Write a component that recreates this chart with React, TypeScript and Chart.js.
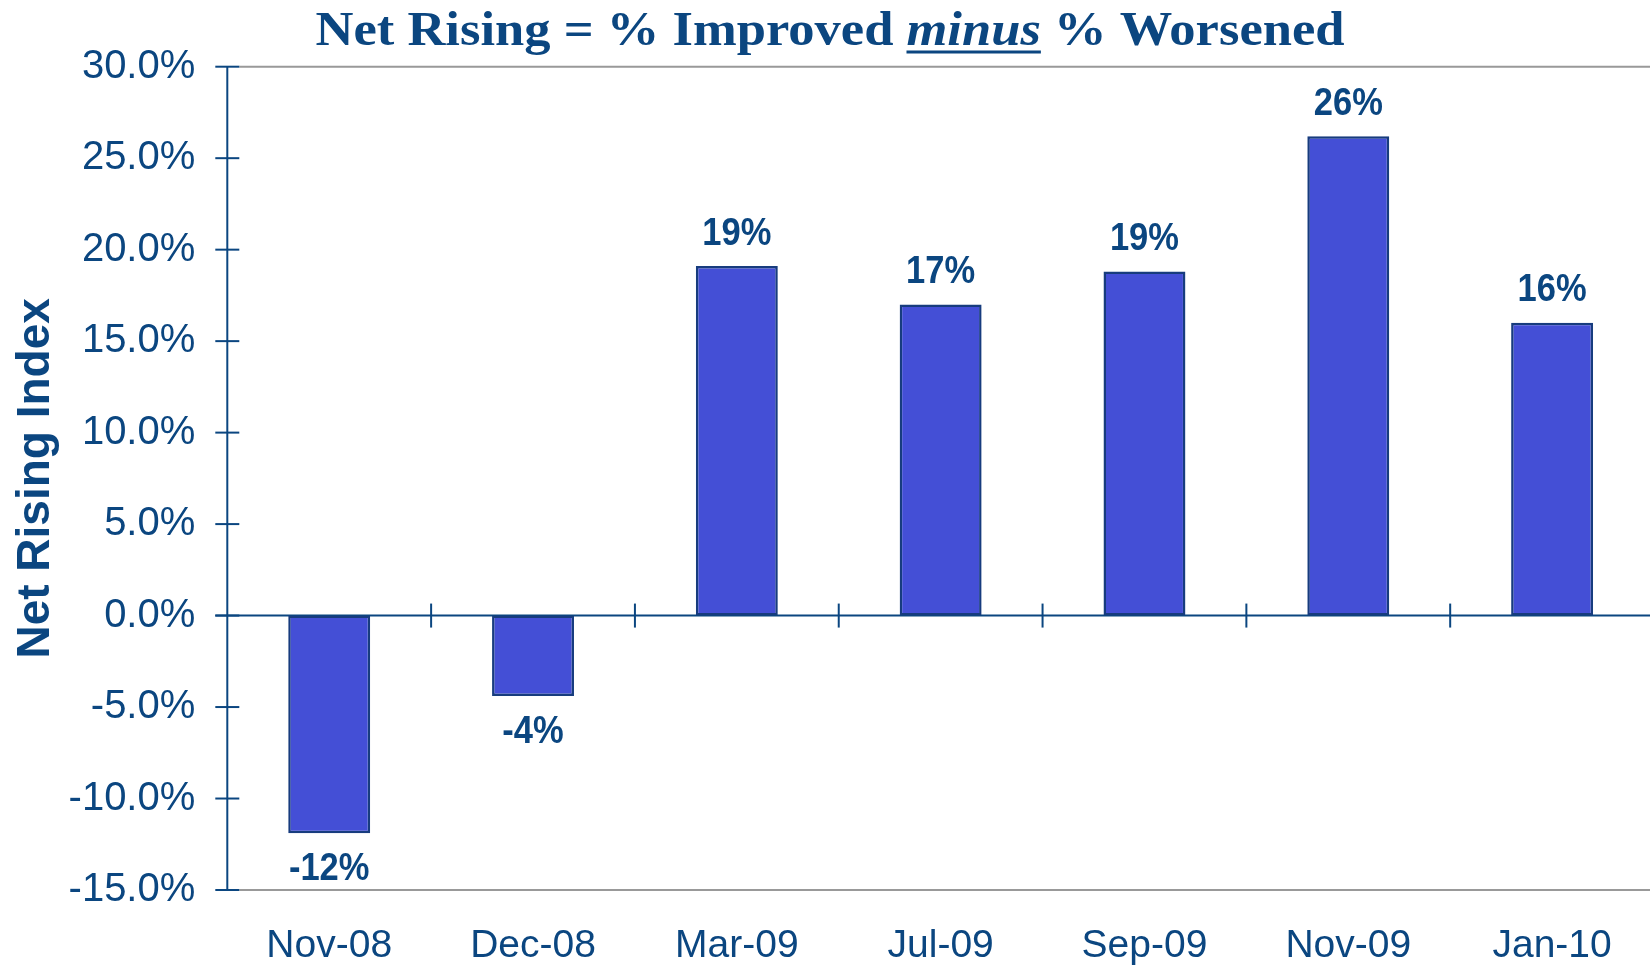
import React, { useEffect, useRef } from "react";
import { Chart, registerables } from "chart.js";

Chart.register(...registerables);

const categories = ["Nov-08", "Dec-08", "Mar-09", "Jul-09", "Sep-09", "Nov-09", "Jan-10"];
const netRising = [-11.9, -4.4, 19.1, 17.0, 18.8, 26.2, 16.0];
const valueLabels = ["-12%", "-4%", "19%", "17%", "19%", "26%", "16%"];
const yMin = -15;
const yMax = 30;
const yStep = 5;
const titleParts = [
  { text: "Net Rising = % Improved ", italic: false, underline: false },
  { text: "minus", italic: true, underline: true },
  { text: " % Worsened", italic: false, underline: false },
];
const yAxisTitle = "Net Rising Index";

const NAVY = "#0B4680";
const BAR = "#444FD6";
const BAR_BORDER = "#173C7E";
const GRAY = "#999999";
const SANS = '"Liberation Sans", Arial, sans-serif';
const SERIF = '"Liberation Serif", "Times New Roman", serif';

const decorPlugin = {
  id: "decor",
  beforeDatasetsDraw(chart: any) {
    const { ctx, chartArea } = chart;
    const x = chart.scales.x;
    const y = chart.scales.y;
    const left = chartArea.left;
    const right = chartArea.right;
    ctx.save();
    ctx.strokeStyle = GRAY;
    ctx.lineWidth = 2;
    [yMax, yMin].forEach((v) => {
      const py = y.getPixelForValue(v);
      ctx.beginPath();
      ctx.moveTo(left + 12, py);
      ctx.lineTo(right, py);
      ctx.stroke();
    });
    ctx.strokeStyle = NAVY;
    ctx.lineWidth = 2;
    ctx.beginPath();
    ctx.moveTo(left, y.getPixelForValue(yMax));
    ctx.lineTo(left, y.getPixelForValue(yMin));
    ctx.stroke();
    for (let v = yMin; v <= yMax; v += yStep) {
      const py = y.getPixelForValue(v);
      ctx.beginPath();
      ctx.moveTo(left - 12, py);
      ctx.lineTo(left + 12, py);
      ctx.stroke();
    }
    const zy = y.getPixelForValue(0);
    ctx.beginPath();
    ctx.moveTo(left - 12, zy);
    ctx.lineTo(right, zy);
    ctx.stroke();
    for (let i = 1; i < categories.length; i++) {
      const px = (x.getPixelForTick(i - 1) + x.getPixelForTick(i)) / 2;
      ctx.beginPath();
      ctx.moveTo(px, zy - 12);
      ctx.lineTo(px, zy + 12);
      ctx.stroke();
    }
    ctx.restore();
  },
  afterDatasetsDraw(chart: any) {
    const { ctx } = chart;
    const meta = chart.getDatasetMeta(0);
    ctx.save();
    ctx.fillStyle = NAVY;
    ctx.font = `bold 39px ${SANS}`;
    ctx.textAlign = "center";
    ctx.textBaseline = "alphabetic";
    meta.data.forEach((bar: any, i: number) => {
      const v = netRising[i];
      const ty = v >= 0 ? bar.y - 21.5 : bar.y + 47;
      ctx.save();
      ctx.translate(bar.x, ty);
      ctx.scale(0.885, 1);
      ctx.fillText(valueLabels[i], 0, 0);
      ctx.restore();
    });
    ctx.restore();
  },
  afterDraw(chart: any) {
    const { ctx } = chart;
    ctx.save();
    const size = 49;
    const fonts = titleParts.map((p) => `${p.italic ? "italic " : ""}bold ${size}px ${SERIF}`);
    const widths = titleParts.map((p, i) => {
      ctx.font = fonts[i];
      return ctx.measureText(p.text).width;
    });
    const total = widths.reduce((a, b) => a + b, 0);
    const targetW = 1029;
    const s = targetW / total;
    const cx = 830;
    const baseY = 45;
    ctx.translate(cx - targetW / 2, baseY);
    ctx.scale(s, 1);
    ctx.fillStyle = NAVY;
    ctx.textAlign = "left";
    ctx.textBaseline = "alphabetic";
    let xPos = 0;
    titleParts.forEach((p, i) => {
      ctx.font = fonts[i];
      ctx.fillText(p.text, xPos, 0);
      if (p.underline) {
        ctx.fillRect(xPos, 5.5, widths[i], 3);
      }
      xPos += widths[i];
    });
    ctx.restore();
    ctx.save();
    ctx.fillStyle = NAVY;
    ctx.font = `bold 46px ${SANS}`;
    ctx.textAlign = "center";
    ctx.textBaseline = "alphabetic";
    const yS = chart.scales.y;
    const midY = (yS.getPixelForValue(yMax) + yS.getPixelForValue(yMin)) / 2;
    ctx.translate(49.3, midY);
    ctx.rotate(-Math.PI / 2);
    ctx.fillText(yAxisTitle, 0, 0);
    ctx.restore();
  },
};

export default function App() {
  const canvasRef = useRef<HTMLCanvasElement | null>(null);

  useEffect(() => {
    const canvas = canvasRef.current;
    if (!canvas) return;
    const chart = new Chart(canvas, {
      type: "bar",
      data: {
        labels: categories,
        datasets: [
          {
            data: netRising,
            backgroundColor: BAR,
            borderColor: BAR_BORDER,
            borderWidth: 2.5,
            borderSkipped: false,
            barPercentage: 0.402,
            categoryPercentage: 1,
          },
        ],
      },
      options: {
        responsive: false,
        animation: false,
        devicePixelRatio: 1,
        layout: { padding: { top: 66.7, left: 0, right: 0, bottom: 0 } },
        plugins: {
          legend: { display: false },
          tooltip: { enabled: false },
          title: { display: false },
        },
        scales: {
          x: {
            grid: { display: false, drawTicks: false },
            border: { display: false },
            ticks: {
              color: NAVY,
              font: { family: SANS, size: 39 },
              padding: 33,
              maxRotation: 0,
              autoSkip: false,
            },
            afterFit: (s: any) => {
              s.height = 76;
              s.paddingLeft = 0;
              s.paddingRight = 0;
            },
          },
          y: {
            min: yMin,
            max: yMax,
            grid: { display: false, drawTicks: false },
            border: { display: false },
            ticks: {
              stepSize: yStep,
              color: NAVY,
              font: { family: SANS, size: 40 },
              padding: 32,
              callback: (v: any) => Number(v).toFixed(1) + "%",
            },
            afterFit: (s: any) => {
              s.width = 227.3;
              s.paddingTop = 0;
              s.paddingBottom = 0;
            },
          },
        },
      },
      plugins: [decorPlugin],
    } as any);
    return () => chart.destroy();
  }, []);

  return (
    <div
      style={{
        position: "absolute",
        left: 0,
        top: 0,
        width: 1650,
        height: 966,
        overflow: "hidden",
        background: "#ffffff",
      }}
    >
      <canvas ref={canvasRef} width={1654} height={966} style={{ display: "block", width: 1654, height: 966 }} />
    </div>
  );
}
